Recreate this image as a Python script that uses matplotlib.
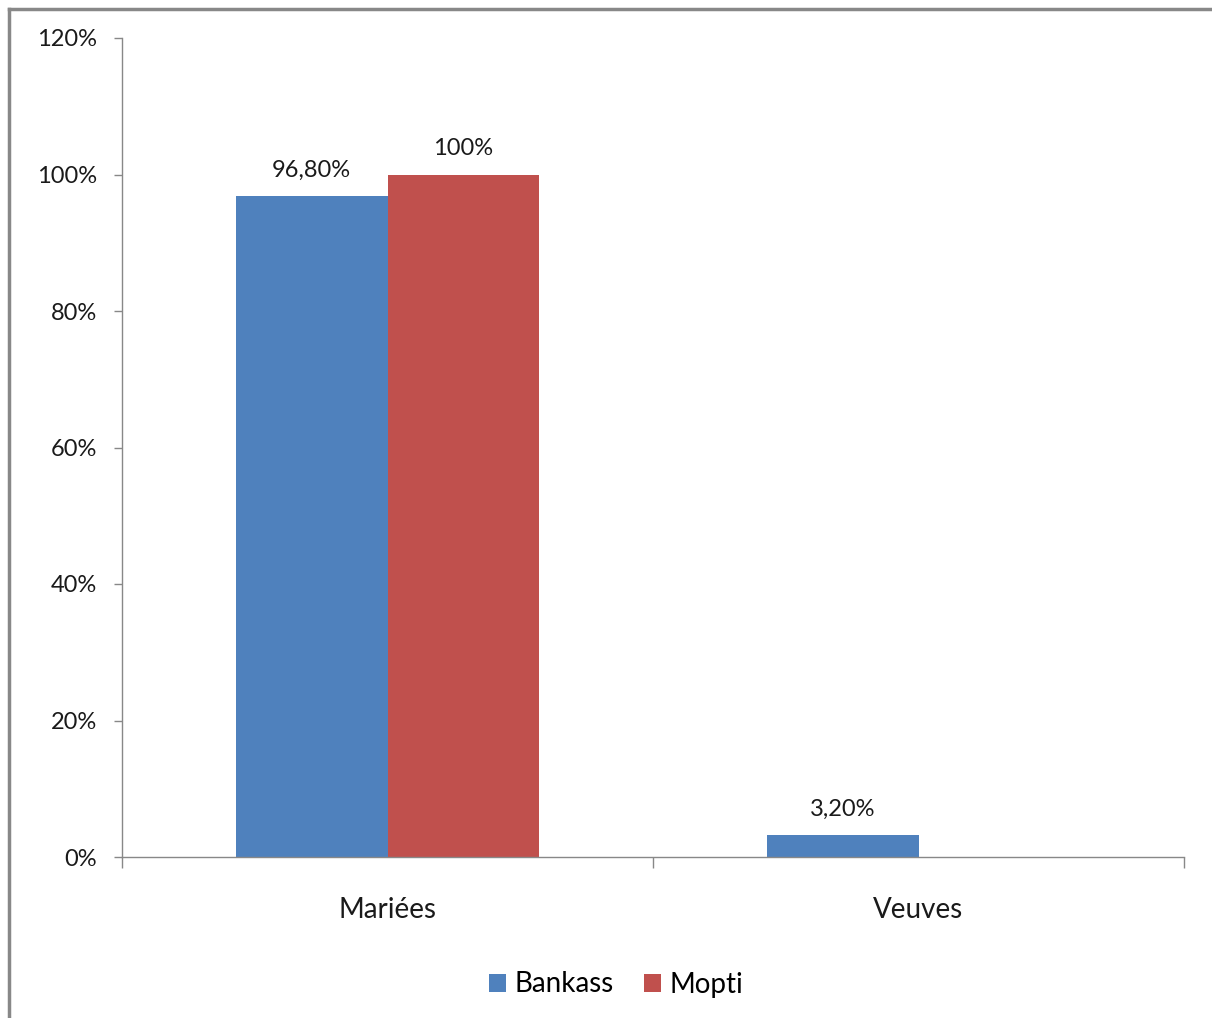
import matplotlib
matplotlib.use("Agg")
import matplotlib.pyplot as plt
from matplotlib.lines import Line2D
from matplotlib.ticker import FuncFormatter
import numpy as np

categories = ["Mariées", "Veuves"]
series_names = ["Bankass", "Mopti"]
bankass = [96.8, 3.2]
mopti = [100.0, 0.0]
bankass_labels = ["96,80%", "3,20%"]
mopti_labels = ["100%", ""]
yticks = [0, 20, 40, 60, 80, 100, 120]

colors = ["#4F81BD", "#C0504D"]
plt.rcParams['font.family'] = ['Lato', 'DejaVu Sans']

fig = plt.figure(figsize=(12.12, 10.18), dpi=100)
ax = fig.add_axes([122/1212, 1-857/1018, 1062/1212, 819/1018])

x = np.arange(len(categories))
w = 0.286
b1 = ax.bar(x - w/2, bankass, w, color=colors[0], label=series_names[0])
b2 = ax.bar(x + w/2, mopti, w, color=colors[1], label=series_names[1])

for bars, labs in ((b1, bankass_labels), (b2, mopti_labels)):
    for rect, lab in zip(bars, labs):
        if lab:
            ax.annotate(lab, (rect.get_x() + rect.get_width()/2, rect.get_height()),
                        xytext=(0, 11), textcoords="offset points",
                        ha="center", va="bottom", fontsize=17, color="#1a1a1a")

ax.set_xlim(-0.5, len(categories) - 0.5)
ax.set_ylim(0, 120)
ax.set_yticks(yticks)
ax.yaxis.set_major_formatter(FuncFormatter(lambda v, p: f"{int(v)}%"))
ax.tick_params(axis='y', direction='out', length=6, width=1, color='#888888',
               labelsize=17, pad=12, labelcolor='#1a1a1a')

ax.set_xticks(np.arange(-0.5, len(categories), 1.0))
ax.set_xticklabels([])
ax.tick_params(axis='x', which='major', direction='out', length=8, width=1, color='#888888')
ax.set_xticks(x, minor=True)
ax.set_xticklabels(categories, minor=True)
ax.tick_params(axis='x', which='minor', length=0, labelsize=20, pad=28.5, labelcolor='#1a1a1a')

for s in ("top", "right"):
    ax.spines[s].set_visible(False)
for s in ("left", "bottom"):
    ax.spines[s].set_color("#888888")
    ax.spines[s].set_linewidth(1)

fig.legend(handles=[b1, b2], labels=series_names, loc="center",
           bbox_to_anchor=(616/1212, 1-984.5/1018), ncol=2, frameon=False,
           fontsize=20, handlelength=0.6, handleheight=0.6, handletextpad=0.3,
           columnspacing=1.1)

# outer frame (left and top edges)
fig.add_artist(Line2D([9/1212, 9/1212], [0, 1-9/1018], transform=fig.transFigure,
                      color="#888888", linewidth=2.5))
fig.add_artist(Line2D([9/1212, 1], [1-9/1018, 1-9/1018], transform=fig.transFigure,
                      color="#888888", linewidth=2.5))

fig.savefig("out.png", dpi=100)
